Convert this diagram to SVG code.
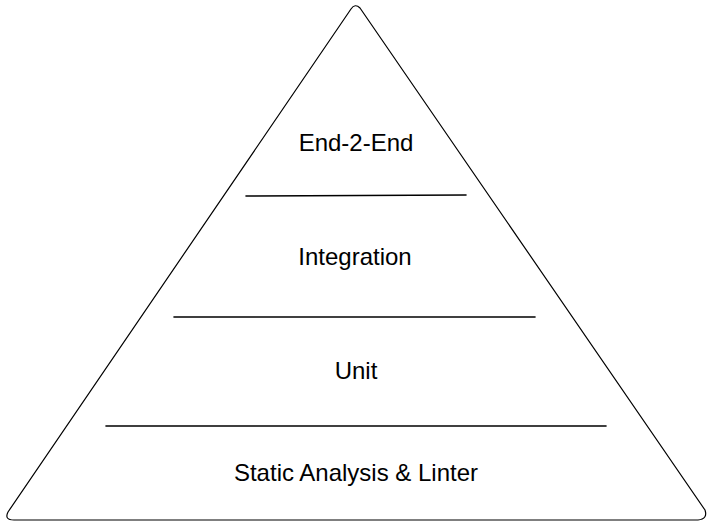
<svg xmlns="http://www.w3.org/2000/svg" width="711" height="524" viewBox="0 0 711 524">
<style>
.edge{fill:none;stroke:#000;stroke-width:1.2;stroke-linecap:round;stroke-linejoin:round}
.sep{fill:none;stroke:#000;stroke-width:1.6;stroke-linecap:round}
.lbl{font-family:"Liberation Sans",Arial,sans-serif;font-size:24px;fill:#000;text-anchor:middle}
</style>
<rect width="711" height="524" fill="#fff"/>
<g id="pyramid">
<path class="edge" d="M351,9 Q355,3 360,8 L705,510 Q708,519 698,520 L14,520 Q4,520 8,512 L351,9 Z"/>
</g>
<g id="connectors">
<path class="sep" d="M246,196 L466,195"/>
<path class="sep" d="M174,317 L535,317"/>
<path class="sep" d="M106,426 L606,426"/>
</g>
<g id="e2e"><text class="lbl" x="356" y="151">End-2-End</text></g>
<g id="integration"><text class="lbl" x="355" y="265">Integration</text></g>
<g id="unit"><text class="lbl" x="356" y="379">Unit</text></g>
<g id="static"><text class="lbl" x="356" y="481">Static Analysis &amp; Linter</text></g>
</svg>
